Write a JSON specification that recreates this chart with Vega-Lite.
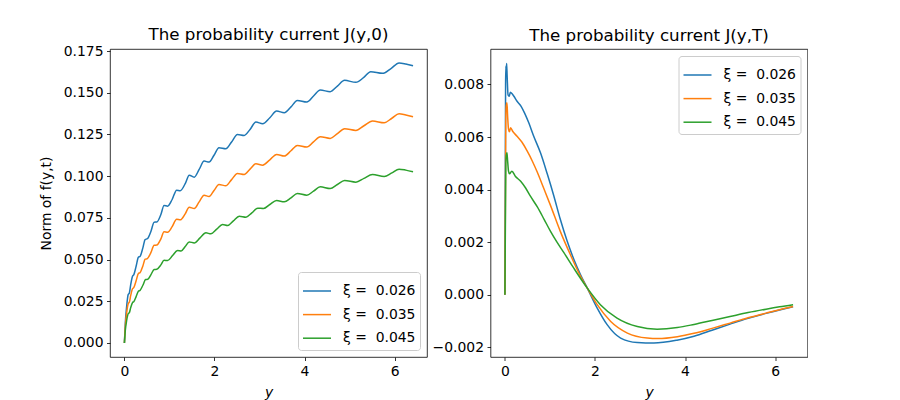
{
  "$schema": "https://vega.github.io/schema/vega-lite/v6.json",
  "padding": {"left": 38, "top": 26, "right": 0, "bottom": 0},
  "bounds": "flush",
  "spacing": 63.5,
  "datasets": {
    "left": [
      {"y": 0, "f": 0, "xi": "ξ = \u00a00.026"},
      {"y": 0.02, "f": 0.012, "xi": "ξ = \u00a00.026"},
      {"y": 0.05, "f": 0.022, "xi": "ξ = \u00a00.026"},
      {"y": 0.084, "f": 0.029, "xi": "ξ = \u00a00.026"},
      {"y": 0.11, "f": 0.030, "xi": "ξ = \u00a00.026"},
      {"y": 0.14, "f": 0.035, "xi": "ξ = \u00a00.026"},
      {"y": 0.18, "f": 0.040, "xi": "ξ = \u00a00.026"},
      {"y": 0.21, "f": 0.041, "xi": "ξ = \u00a00.026"},
      {"y": 0.26, "f": 0.046, "xi": "ξ = \u00a00.026"},
      {"y": 0.31, "f": 0.0514, "xi": "ξ = \u00a00.026"},
      {"y": 0.35, "f": 0.052, "xi": "ξ = \u00a00.026"},
      {"y": 0.41, "f": 0.057, "xi": "ξ = \u00a00.026"},
      {"y": 0.46, "f": 0.062, "xi": "ξ = \u00a00.026"},
      {"y": 0.51, "f": 0.0625, "xi": "ξ = \u00a00.026"},
      {"y": 0.59, "f": 0.067, "xi": "ξ = \u00a00.026"},
      {"y": 0.66, "f": 0.0724, "xi": "ξ = \u00a00.026"},
      {"y": 0.72, "f": 0.0725, "xi": "ξ = \u00a00.026"},
      {"y": 0.81, "f": 0.077, "xi": "ξ = \u00a00.026"},
      {"y": 0.88, "f": 0.0824, "xi": "ξ = \u00a00.026"},
      {"y": 0.96, "f": 0.082, "xi": "ξ = \u00a00.026"},
      {"y": 1.06, "f": 0.086, "xi": "ξ = \u00a00.026"},
      {"y": 1.16, "f": 0.0916, "xi": "ξ = \u00a00.026"},
      {"y": 1.24, "f": 0.0912, "xi": "ξ = \u00a00.026"},
      {"y": 1.35, "f": 0.0955, "xi": "ξ = \u00a00.026"},
      {"y": 1.44, "f": 0.1006, "xi": "ξ = \u00a00.026"},
      {"y": 1.55, "f": 0.0994, "xi": "ξ = \u00a00.026"},
      {"y": 1.66, "f": 0.104, "xi": "ξ = \u00a00.026"},
      {"y": 1.77, "f": 0.109, "xi": "ξ = \u00a00.026"},
      {"y": 1.88, "f": 0.1084, "xi": "ξ = \u00a00.026"},
      {"y": 1.99, "f": 0.1125, "xi": "ξ = \u00a00.026"},
      {"y": 2.10, "f": 0.117, "xi": "ξ = \u00a00.026"},
      {"y": 2.25, "f": 0.1164, "xi": "ξ = \u00a00.026"},
      {"y": 2.38, "f": 0.1205, "xi": "ξ = \u00a00.026"},
      {"y": 2.51, "f": 0.125, "xi": "ξ = \u00a00.026"},
      {"y": 2.66, "f": 0.1244, "xi": "ξ = \u00a00.026"},
      {"y": 2.79, "f": 0.128, "xi": "ξ = \u00a00.026"},
      {"y": 2.92, "f": 0.1324, "xi": "ξ = \u00a00.026"},
      {"y": 3.07, "f": 0.1314, "xi": "ξ = \u00a00.026"},
      {"y": 3.23, "f": 0.135, "xi": "ξ = \u00a00.026"},
      {"y": 3.38, "f": 0.139, "xi": "ξ = \u00a00.026"},
      {"y": 3.55, "f": 0.138, "xi": "ξ = \u00a00.026"},
      {"y": 3.70, "f": 0.1415, "xi": "ξ = \u00a00.026"},
      {"y": 3.84, "f": 0.1454, "xi": "ξ = \u00a00.026"},
      {"y": 4.05, "f": 0.1444, "xi": "ξ = \u00a00.026"},
      {"y": 4.20, "f": 0.148, "xi": "ξ = \u00a00.026"},
      {"y": 4.35, "f": 0.1516, "xi": "ξ = \u00a00.026"},
      {"y": 4.57, "f": 0.1506, "xi": "ξ = \u00a00.026"},
      {"y": 4.73, "f": 0.154, "xi": "ξ = \u00a00.026"},
      {"y": 4.89, "f": 0.1574, "xi": "ξ = \u00a00.026"},
      {"y": 5.14, "f": 0.1562, "xi": "ξ = \u00a00.026"},
      {"y": 5.31, "f": 0.159, "xi": "ξ = \u00a00.026"},
      {"y": 5.47, "f": 0.1626, "xi": "ξ = \u00a00.026"},
      {"y": 5.73, "f": 0.1616, "xi": "ξ = \u00a00.026"},
      {"y": 5.92, "f": 0.1645, "xi": "ξ = \u00a00.026"},
      {"y": 6.10, "f": 0.1678, "xi": "ξ = \u00a00.026"},
      {"y": 6.25, "f": 0.1672, "xi": "ξ = \u00a00.026"},
      {"y": 6.41, "f": 0.1662, "xi": "ξ = \u00a00.026"},
      {"y": 0, "f": 0, "xi": "ξ = \u00a00.035"},
      {"y": 0.02, "f": 0.010, "xi": "ξ = \u00a00.035"},
      {"y": 0.05, "f": 0.018, "xi": "ξ = \u00a00.035"},
      {"y": 0.084, "f": 0.0235, "xi": "ξ = \u00a00.035"},
      {"y": 0.11, "f": 0.0245, "xi": "ξ = \u00a00.035"},
      {"y": 0.14, "f": 0.0285, "xi": "ξ = \u00a00.035"},
      {"y": 0.18, "f": 0.0325, "xi": "ξ = \u00a00.035"},
      {"y": 0.21, "f": 0.0333, "xi": "ξ = \u00a00.035"},
      {"y": 0.26, "f": 0.0373, "xi": "ξ = \u00a00.035"},
      {"y": 0.31, "f": 0.0416, "xi": "ξ = \u00a00.035"},
      {"y": 0.35, "f": 0.0422, "xi": "ξ = \u00a00.035"},
      {"y": 0.41, "f": 0.0462, "xi": "ξ = \u00a00.035"},
      {"y": 0.46, "f": 0.0502, "xi": "ξ = \u00a00.035"},
      {"y": 0.51, "f": 0.0506, "xi": "ξ = \u00a00.035"},
      {"y": 0.59, "f": 0.0543, "xi": "ξ = \u00a00.035"},
      {"y": 0.66, "f": 0.0586, "xi": "ξ = \u00a00.035"},
      {"y": 0.72, "f": 0.0587, "xi": "ξ = \u00a00.035"},
      {"y": 0.81, "f": 0.0624, "xi": "ξ = \u00a00.035"},
      {"y": 0.88, "f": 0.0667, "xi": "ξ = \u00a00.035"},
      {"y": 0.96, "f": 0.0664, "xi": "ξ = \u00a00.035"},
      {"y": 1.06, "f": 0.0697, "xi": "ξ = \u00a00.035"},
      {"y": 1.16, "f": 0.0742, "xi": "ξ = \u00a00.035"},
      {"y": 1.24, "f": 0.0738, "xi": "ξ = \u00a00.035"},
      {"y": 1.35, "f": 0.0774, "xi": "ξ = \u00a00.035"},
      {"y": 1.44, "f": 0.0814, "xi": "ξ = \u00a00.035"},
      {"y": 1.55, "f": 0.0806, "xi": "ξ = \u00a00.035"},
      {"y": 1.66, "f": 0.0846, "xi": "ξ = \u00a00.035"},
      {"y": 1.77, "f": 0.0886, "xi": "ξ = \u00a00.035"},
      {"y": 1.88, "f": 0.0878, "xi": "ξ = \u00a00.035"},
      {"y": 1.99, "f": 0.0914, "xi": "ξ = \u00a00.035"},
      {"y": 2.10, "f": 0.095, "xi": "ξ = \u00a00.035"},
      {"y": 2.25, "f": 0.0942, "xi": "ξ = \u00a00.035"},
      {"y": 2.38, "f": 0.0979, "xi": "ξ = \u00a00.035"},
      {"y": 2.51, "f": 0.1016, "xi": "ξ = \u00a00.035"},
      {"y": 2.66, "f": 0.101, "xi": "ξ = \u00a00.035"},
      {"y": 2.79, "f": 0.1042, "xi": "ξ = \u00a00.035"},
      {"y": 2.92, "f": 0.1074, "xi": "ξ = \u00a00.035"},
      {"y": 3.07, "f": 0.1066, "xi": "ξ = \u00a00.035"},
      {"y": 3.23, "f": 0.1098, "xi": "ξ = \u00a00.035"},
      {"y": 3.38, "f": 0.113, "xi": "ξ = \u00a00.035"},
      {"y": 3.55, "f": 0.112, "xi": "ξ = \u00a00.035"},
      {"y": 3.70, "f": 0.1152, "xi": "ξ = \u00a00.035"},
      {"y": 3.84, "f": 0.1184, "xi": "ξ = \u00a00.035"},
      {"y": 4.05, "f": 0.1174, "xi": "ξ = \u00a00.035"},
      {"y": 4.20, "f": 0.1205, "xi": "ξ = \u00a00.035"},
      {"y": 4.35, "f": 0.1236, "xi": "ξ = \u00a00.035"},
      {"y": 4.57, "f": 0.1226, "xi": "ξ = \u00a00.035"},
      {"y": 4.73, "f": 0.1255, "xi": "ξ = \u00a00.035"},
      {"y": 4.89, "f": 0.1284, "xi": "ξ = \u00a00.035"},
      {"y": 5.14, "f": 0.1274, "xi": "ξ = \u00a00.035"},
      {"y": 5.32, "f": 0.1302, "xi": "ξ = \u00a00.035"},
      {"y": 5.51, "f": 0.133, "xi": "ξ = \u00a00.035"},
      {"y": 5.77, "f": 0.132, "xi": "ξ = \u00a00.035"},
      {"y": 5.94, "f": 0.1347, "xi": "ξ = \u00a00.035"},
      {"y": 6.10, "f": 0.1374, "xi": "ξ = \u00a00.035"},
      {"y": 6.25, "f": 0.1366, "xi": "ξ = \u00a00.035"},
      {"y": 6.41, "f": 0.1356, "xi": "ξ = \u00a00.035"},
      {"y": 0, "f": 0, "xi": "ξ = \u00a00.045"},
      {"y": 0.02, "f": 0.0075, "xi": "ξ = \u00a00.045"},
      {"y": 0.05, "f": 0.0135, "xi": "ξ = \u00a00.045"},
      {"y": 0.084, "f": 0.0175, "xi": "ξ = \u00a00.045"},
      {"y": 0.11, "f": 0.0182, "xi": "ξ = \u00a00.045"},
      {"y": 0.14, "f": 0.0212, "xi": "ξ = \u00a00.045"},
      {"y": 0.18, "f": 0.0242, "xi": "ξ = \u00a00.045"},
      {"y": 0.21, "f": 0.0248, "xi": "ξ = \u00a00.045"},
      {"y": 0.26, "f": 0.0278, "xi": "ξ = \u00a00.045"},
      {"y": 0.31, "f": 0.0310, "xi": "ξ = \u00a00.045"},
      {"y": 0.35, "f": 0.0316, "xi": "ξ = \u00a00.045"},
      {"y": 0.41, "f": 0.0346, "xi": "ξ = \u00a00.045"},
      {"y": 0.47, "f": 0.038, "xi": "ξ = \u00a00.045"},
      {"y": 0.52, "f": 0.0382, "xi": "ξ = \u00a00.045"},
      {"y": 0.59, "f": 0.041, "xi": "ξ = \u00a00.045"},
      {"y": 0.66, "f": 0.044, "xi": "ξ = \u00a00.045"},
      {"y": 0.72, "f": 0.0442, "xi": "ξ = \u00a00.045"},
      {"y": 0.81, "f": 0.0468, "xi": "ξ = \u00a00.045"},
      {"y": 0.88, "f": 0.0496, "xi": "ξ = \u00a00.045"},
      {"y": 0.96, "f": 0.0494, "xi": "ξ = \u00a00.045"},
      {"y": 1.07, "f": 0.0524, "xi": "ξ = \u00a00.045"},
      {"y": 1.18, "f": 0.0554, "xi": "ξ = \u00a00.045"},
      {"y": 1.26, "f": 0.0552, "xi": "ξ = \u00a00.045"},
      {"y": 1.35, "f": 0.0578, "xi": "ξ = \u00a00.045"},
      {"y": 1.44, "f": 0.0606, "xi": "ξ = \u00a00.045"},
      {"y": 1.55, "f": 0.060, "xi": "ξ = \u00a00.045"},
      {"y": 1.68, "f": 0.063, "xi": "ξ = \u00a00.045"},
      {"y": 1.81, "f": 0.066, "xi": "ξ = \u00a00.045"},
      {"y": 1.92, "f": 0.0654, "xi": "ξ = \u00a00.045"},
      {"y": 2.05, "f": 0.0682, "xi": "ξ = \u00a00.045"},
      {"y": 2.18, "f": 0.071, "xi": "ξ = \u00a00.045"},
      {"y": 2.29, "f": 0.0704, "xi": "ξ = \u00a00.045"},
      {"y": 2.42, "f": 0.0732, "xi": "ξ = \u00a00.045"},
      {"y": 2.55, "f": 0.076, "xi": "ξ = \u00a00.045"},
      {"y": 2.70, "f": 0.0754, "xi": "ξ = \u00a00.045"},
      {"y": 2.83, "f": 0.078, "xi": "ξ = \u00a00.045"},
      {"y": 2.96, "f": 0.0808, "xi": "ξ = \u00a00.045"},
      {"y": 3.09, "f": 0.0806, "xi": "ξ = \u00a00.045"},
      {"y": 3.23, "f": 0.083, "xi": "ξ = \u00a00.045"},
      {"y": 3.38, "f": 0.0854, "xi": "ξ = \u00a00.045"},
      {"y": 3.55, "f": 0.0846, "xi": "ξ = \u00a00.045"},
      {"y": 3.70, "f": 0.087, "xi": "ξ = \u00a00.045"},
      {"y": 3.84, "f": 0.0896, "xi": "ξ = \u00a00.045"},
      {"y": 4.05, "f": 0.0886, "xi": "ξ = \u00a00.045"},
      {"y": 4.20, "f": 0.091, "xi": "ξ = \u00a00.045"},
      {"y": 4.35, "f": 0.0936, "xi": "ξ = \u00a00.045"},
      {"y": 4.57, "f": 0.0926, "xi": "ξ = \u00a00.045"},
      {"y": 4.73, "f": 0.095, "xi": "ξ = \u00a00.045"},
      {"y": 4.89, "f": 0.0974, "xi": "ξ = \u00a00.045"},
      {"y": 5.14, "f": 0.0964, "xi": "ξ = \u00a00.045"},
      {"y": 5.32, "f": 0.0987, "xi": "ξ = \u00a00.045"},
      {"y": 5.51, "f": 0.101, "xi": "ξ = \u00a00.045"},
      {"y": 5.77, "f": 0.0998, "xi": "ξ = \u00a00.045"},
      {"y": 5.94, "f": 0.102, "xi": "ξ = \u00a00.045"},
      {"y": 6.10, "f": 0.1042, "xi": "ξ = \u00a00.045"},
      {"y": 6.25, "f": 0.1036, "xi": "ξ = \u00a00.045"},
      {"y": 6.41, "f": 0.1026, "xi": "ξ = \u00a00.045"}
    ],
    "right": [
      {"y": 0, "f": 0, "xi": "ξ = \u00a00.026"},
      {"y": 0.015, "f": 0.0080, "xi": "ξ = \u00a00.026"},
      {"y": 0.022, "f": 0.0087, "xi": "ξ = \u00a00.026"},
      {"y": 0.03, "f": 0.0084, "xi": "ξ = \u00a00.026"},
      {"y": 0.038, "f": 0.0088, "xi": "ξ = \u00a00.026"},
      {"y": 0.05, "f": 0.0083, "xi": "ξ = \u00a00.026"},
      {"y": 0.07, "f": 0.0076, "xi": "ξ = \u00a00.026"},
      {"y": 0.095, "f": 0.00755, "xi": "ξ = \u00a00.026"},
      {"y": 0.12, "f": 0.0077, "xi": "ξ = \u00a00.026"},
      {"y": 0.14, "f": 0.00768, "xi": "ξ = \u00a00.026"},
      {"y": 0.2, "f": 0.00755, "xi": "ξ = \u00a00.026"},
      {"y": 0.27, "f": 0.00736, "xi": "ξ = \u00a00.026"},
      {"y": 0.36, "f": 0.00717, "xi": "ξ = \u00a00.026"},
      {"y": 0.435, "f": 0.00692, "xi": "ξ = \u00a00.026"},
      {"y": 0.53, "f": 0.00654, "xi": "ξ = \u00a00.026"},
      {"y": 0.64, "f": 0.00603, "xi": "ξ = \u00a00.026"},
      {"y": 0.79, "f": 0.0054, "xi": "ξ = \u00a00.026"},
      {"y": 0.94, "f": 0.0046, "xi": "ξ = \u00a00.026"},
      {"y": 1.09, "f": 0.00374, "xi": "ξ = \u00a00.026"},
      {"y": 1.23, "f": 0.00287, "xi": "ξ = \u00a00.026"},
      {"y": 1.38, "f": 0.00205, "xi": "ξ = \u00a00.026"},
      {"y": 1.53, "f": 0.00135, "xi": "ξ = \u00a00.026"},
      {"y": 1.68, "f": 0.00076, "xi": "ξ = \u00a00.026"},
      {"y": 1.83, "f": 0.00025, "xi": "ξ = \u00a00.026"},
      {"y": 2.05, "f": -0.00051, "xi": "ξ = \u00a00.026"},
      {"y": 2.27, "f": -0.00114, "xi": "ξ = \u00a00.026"},
      {"y": 2.57, "f": -0.00165, "xi": "ξ = \u00a00.026"},
      {"y": 2.94, "f": -0.00182, "xi": "ξ = \u00a00.026"},
      {"y": 3.31, "f": -0.00184, "xi": "ξ = \u00a00.026"},
      {"y": 3.82, "f": -0.00173, "xi": "ξ = \u00a00.026"},
      {"y": 4.2, "f": -0.00158, "xi": "ξ = \u00a00.026"},
      {"y": 4.6, "f": -0.00135, "xi": "ξ = \u00a00.026"},
      {"y": 5.0, "f": -0.00112, "xi": "ξ = \u00a00.026"},
      {"y": 5.4, "f": -0.0009, "xi": "ξ = \u00a00.026"},
      {"y": 5.8, "f": -0.00071, "xi": "ξ = \u00a00.026"},
      {"y": 6.1, "f": -0.00058, "xi": "ξ = \u00a00.026"},
      {"y": 6.4, "f": -0.00046, "xi": "ξ = \u00a00.026"},
      {"y": 0, "f": 0, "xi": "ξ = \u00a00.035"},
      {"y": 0.02, "f": 0.0068, "xi": "ξ = \u00a00.035"},
      {"y": 0.03, "f": 0.0072, "xi": "ξ = \u00a00.035"},
      {"y": 0.045, "f": 0.0073, "xi": "ξ = \u00a00.035"},
      {"y": 0.06, "f": 0.0068, "xi": "ξ = \u00a00.035"},
      {"y": 0.08, "f": 0.0063, "xi": "ξ = \u00a00.035"},
      {"y": 0.1, "f": 0.0062, "xi": "ξ = \u00a00.035"},
      {"y": 0.125, "f": 0.00635, "xi": "ξ = \u00a00.035"},
      {"y": 0.18, "f": 0.0062, "xi": "ξ = \u00a00.035"},
      {"y": 0.27, "f": 0.00603, "xi": "ξ = \u00a00.035"},
      {"y": 0.38, "f": 0.0058, "xi": "ξ = \u00a00.035"},
      {"y": 0.49, "f": 0.00548, "xi": "ξ = \u00a00.035"},
      {"y": 0.61, "f": 0.00508, "xi": "ξ = \u00a00.035"},
      {"y": 0.72, "f": 0.00466, "xi": "ξ = \u00a00.035"},
      {"y": 0.86, "f": 0.00406, "xi": "ξ = \u00a00.035"},
      {"y": 1.01, "f": 0.00341, "xi": "ξ = \u00a00.035"},
      {"y": 1.23, "f": 0.00241, "xi": "ξ = \u00a00.035"},
      {"y": 1.46, "f": 0.00150, "xi": "ξ = \u00a00.035"},
      {"y": 1.68, "f": 0.0007, "xi": "ξ = \u00a00.035"},
      {"y": 1.83, "f": 0.00025, "xi": "ξ = \u00a00.035"},
      {"y": 2.05, "f": -0.00038, "xi": "ξ = \u00a00.035"},
      {"y": 2.35, "f": -0.00102, "xi": "ξ = \u00a00.035"},
      {"y": 2.72, "f": -0.00146, "xi": "ξ = \u00a00.035"},
      {"y": 3.16, "f": -0.00165, "xi": "ξ = \u00a00.035"},
      {"y": 3.4, "f": -0.00167, "xi": "ξ = \u00a00.035"},
      {"y": 3.83, "f": -0.0016, "xi": "ξ = \u00a00.035"},
      {"y": 4.2, "f": -0.00147, "xi": "ξ = \u00a00.035"},
      {"y": 4.6, "f": -0.00128, "xi": "ξ = \u00a00.035"},
      {"y": 5.0, "f": -0.00108, "xi": "ξ = \u00a00.035"},
      {"y": 5.4, "f": -0.00088, "xi": "ξ = \u00a00.035"},
      {"y": 5.8, "f": -0.0007, "xi": "ξ = \u00a00.035"},
      {"y": 6.1, "f": -0.00057, "xi": "ξ = \u00a00.035"},
      {"y": 6.4, "f": -0.00045, "xi": "ξ = \u00a00.035"},
      {"y": 0, "f": 0, "xi": "ξ = \u00a00.045"},
      {"y": 0.02, "f": 0.0050, "xi": "ξ = \u00a00.045"},
      {"y": 0.03, "f": 0.0053, "xi": "ξ = \u00a00.045"},
      {"y": 0.045, "f": 0.0054, "xi": "ξ = \u00a00.045"},
      {"y": 0.06, "f": 0.0051, "xi": "ξ = \u00a00.045"},
      {"y": 0.08, "f": 0.0047, "xi": "ξ = \u00a00.045"},
      {"y": 0.1, "f": 0.0046, "xi": "ξ = \u00a00.045"},
      {"y": 0.155, "f": 0.0047, "xi": "ξ = \u00a00.045"},
      {"y": 0.235, "f": 0.0045, "xi": "ξ = \u00a00.045"},
      {"y": 0.35, "f": 0.00432, "xi": "ξ = \u00a00.045"},
      {"y": 0.46, "f": 0.00406, "xi": "ξ = \u00a00.045"},
      {"y": 0.57, "f": 0.00374, "xi": "ξ = \u00a00.045"},
      {"y": 0.72, "f": 0.00334, "xi": "ξ = \u00a00.045"},
      {"y": 0.87, "f": 0.00287, "xi": "ξ = \u00a00.045"},
      {"y": 1.01, "f": 0.00242, "xi": "ξ = \u00a00.045"},
      {"y": 1.16, "f": 0.00199, "xi": "ξ = \u00a00.045"},
      {"y": 1.31, "f": 0.0016, "xi": "ξ = \u00a00.045"},
      {"y": 1.53, "f": 0.00101, "xi": "ξ = \u00a00.045"},
      {"y": 1.83, "f": 0.00025, "xi": "ξ = \u00a00.045"},
      {"y": 2.12, "f": -0.00038, "xi": "ξ = \u00a00.045"},
      {"y": 2.49, "f": -0.00089, "xi": "ξ = \u00a00.045"},
      {"y": 2.94, "f": -0.00121, "xi": "ξ = \u00a00.045"},
      {"y": 3.38, "f": -0.00131, "xi": "ξ = \u00a00.045"},
      {"y": 3.83, "f": -0.00125, "xi": "ξ = \u00a00.045"},
      {"y": 4.2, "f": -0.00113, "xi": "ξ = \u00a00.045"},
      {"y": 4.6, "f": -0.00098, "xi": "ξ = \u00a00.045"},
      {"y": 5.0, "f": -0.00083, "xi": "ξ = \u00a00.045"},
      {"y": 5.4, "f": -0.00068, "xi": "ξ = \u00a00.045"},
      {"y": 5.8, "f": -0.00055, "xi": "ξ = \u00a00.045"},
      {"y": 6.1, "f": -0.00046, "xi": "ξ = \u00a00.045"},
      {"y": 6.4, "f": -0.00038, "xi": "ξ = \u00a00.045"}
    ]
  },
  "hconcat": [
    {
      "width": 317,
      "height": 308,
      "title": {"text": "The probability current J(y,0)", "offset": 0},
      "data": {"name": "left"},
      "mark": {"type": "line", "strokeWidth": 1.5, "interpolate": "monotone"},
      "encoding": {
        "x": {
          "field": "y",
          "type": "quantitative",
          "scale": {"domain": [-0.32, 6.72], "nice": false, "zero": false},
          "axis": {"values": [0, 2, 4, 6], "format": "d", "title": "y", "titleFontStyle": "italic", "titlePadding": 8}
        },
        "y": {
          "field": "f",
          "type": "quantitative",
          "scale": {"domain": [-0.0084, 0.1762], "nice": false, "zero": false},
          "axis": {"values": [0, 0.025, 0.05, 0.075, 0.1, 0.125, 0.15, 0.175], "format": ".3f", "title": "Norm of f(y,t)", "titlePadding": 10}
        },
        "color": {
          "field": "xi",
          "type": "nominal",
          "scale": {"domain": ["ξ = \u00a00.026", "ξ = \u00a00.035", "ξ = \u00a00.045"], "range": ["#1f77b4", "#ff7f0e", "#2ca02c"]},
          "legend": {"orient": "bottom-right"}
        }
      }
    },
    {
      "width": 317,
      "height": 308,
      "title": {"text": "The probability current J(y,T)", "offset": 4},
      "data": {"name": "right"},
      "mark": {"type": "line", "strokeWidth": 1.5, "interpolate": "monotone"},
      "encoding": {
        "x": {
          "field": "y",
          "type": "quantitative",
          "scale": {"domain": [-0.32, 6.72], "nice": false, "zero": false},
          "axis": {"values": [0, 2, 4, 6], "format": "d", "title": "y", "titleFontStyle": "italic", "titlePadding": 8}
        },
        "y": {
          "field": "f",
          "type": "quantitative",
          "scale": {"domain": [-0.00237, 0.00935], "nice": false, "zero": false},
          "axis": {"values": [-0.002, 0, 0.002, 0.004, 0.006, 0.008], "format": ".3f", "title": null}
        },
        "color": {
          "field": "xi",
          "type": "nominal",
          "scale": {"domain": ["ξ = \u00a00.026", "ξ = \u00a00.035", "ξ = \u00a00.045"], "range": ["#1f77b4", "#ff7f0e", "#2ca02c"]},
          "legend": {"orient": "top-right"}
        }
      }
    }
  ],
  "resolve": {
    "scale": {"x": "independent", "y": "independent", "color": "independent"},
    "legend": {"color": "independent"}
  },
  "config": {
    "font": "DejaVu Sans",
    "view": {"stroke": "black", "strokeWidth": 0.8},
    "axis": {
      "domain": false,
      "grid": false,
      "tickColor": "black",
      "tickWidth": 0.8,
      "tickSize": 3.5,
      "labelFontSize": 13.9,
      "labelColor": "black",
      "labelPadding": 3.5,
      "labelFlush": false,
      "labelOverlap": false,
      "titleFontSize": 13.9,
      "titleFontWeight": "normal",
      "titleColor": "black",
      "titlePadding": 5
    },
    "title": {"fontSize": 16.7, "fontWeight": "normal", "color": "black", "offset": 8},
    "legend": {
      "title": null,
      "fillColor": "rgba(255,255,255,0.8)",
      "strokeColor": "#cccccc",
      "cornerRadius": 3,
      "padding": 4,
      "offset": 7,
      "symbolType": "stroke",
      "symbolSize": 784,
      "symbolStrokeWidth": 1.5,
      "labelFontSize": 13.9,
      "labelColor": "black",
      "labelOffset": 11,
      "rowPadding": 1.6
    }
  }
}
